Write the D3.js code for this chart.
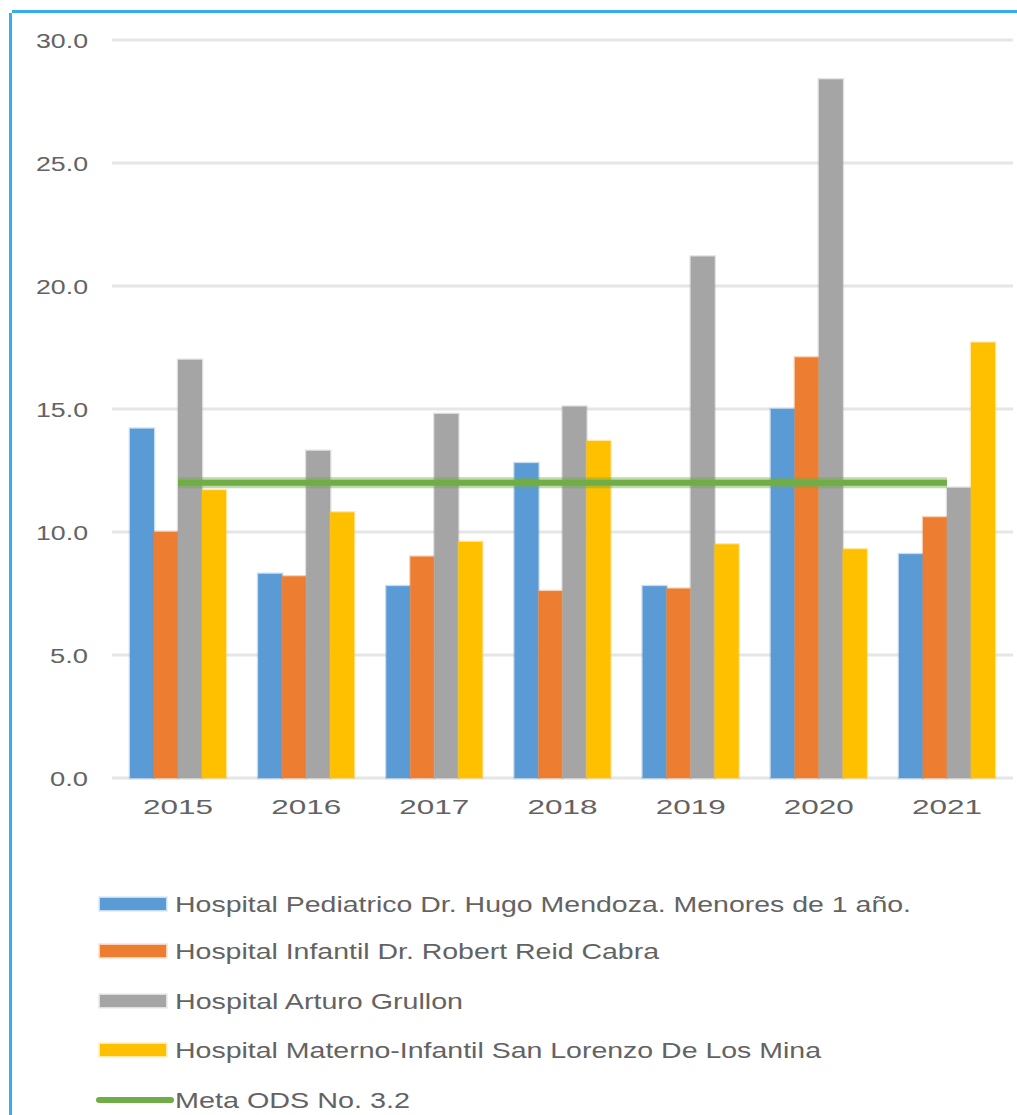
<!DOCTYPE html>
<html>
<head>
<meta charset="utf-8">
<script src="https://cdn.jsdelivr.net/npm/d3@7"></script>
<style>
  html, body { margin: 0; padding: 0; background: #fff; }
  svg { display: block; }
  text { font-family: "Liberation Sans", Arial, sans-serif; fill: #636363; }
</style>
</head>
<body>
<script>
const years = ["2015", "2016", "2017", "2018", "2019", "2020", "2021"];
const seriesNames = [
  "Hospital Pediatrico Dr. Hugo Mendoza. Menores de 1 año.",
  "Hospital Infantil Dr. Robert Reid Cabra",
  "Hospital Arturo Grullon",
  "Hospital Materno-Infantil San Lorenzo De Los Mina"
];
const hugoMendoza   = [14.2, 8.3, 7.8, 12.8, 7.8, 15.0, 9.1];
const robertReid    = [10.0, 8.2, 9.0, 7.6, 7.7, 17.1, 10.6];
const arturoGrullon = [17.0, 13.3, 14.8, 15.1, 21.2, 28.4, 11.8];
const sanLorenzo    = [11.7, 10.8, 9.6, 13.7, 9.5, 9.3, 17.7];
const metaName = "Meta ODS No. 3.2";
const metaODS = [12.0, 12.0, 12.0, 12.0, 12.0, 12.0, 12.0];
const yTicks = [0, 5, 10, 15, 20, 25, 30];
const seriesValues = [hugoMendoza, robertReid, arturoGrullon, sanLorenzo];
const colors = ["#5b9bd5", "#ed7d31", "#a5a5a5", "#ffc000"];
const metaColor = "#70ad47";

const W = 1017, H = 1115;
const svg = d3.select("body").append("svg").attr("width", W).attr("height", H);

// frame lines
svg.append("line").attr("x1", 12).attr("x2", W).attr("y1", 11.5).attr("y2", 11.5)
  .attr("stroke", "#37ade9").attr("stroke-width", 3);
svg.append("line").attr("x1", 10.5).attr("x2", 10.5).attr("y1", 13).attr("y2", H)
  .attr("stroke", "#37ade9").attr("stroke-width", 3);

const plotL = 112, plotR = 1013, plotT = 40, plotB = 778;
const y = d3.scaleLinear().domain([0, 30]).range([plotB, plotT]);
const x0 = d3.scaleBand().domain(years).range([plotL, plotR]).paddingInner(0.25).paddingOuter(0.14);
const x1 = d3.scaleBand().domain(d3.range(seriesValues.length)).range([0, x0.bandwidth()]);

// grid
const yAxis = d3.axisLeft(y).tickValues(yTicks).tickSize(0).tickFormat(d3.format(".1f"));
svg.append("g").selectAll("line").data(yTicks).join("line")
  .attr("x1", plotL).attr("x2", plotR)
  .attr("y1", d => y(d)).attr("y2", d => y(d))
  .attr("stroke", "#e6e6e6").attr("stroke-width", 3);

const gy = svg.append("g").attr("transform", `translate(88,0)`).call(yAxis);
gy.select(".domain").remove();
gy.selectAll("text")
  .attr("x", 0).attr("dy", "0.35em")
  .style("font-size", "20px").style("fill", "#636363")
  .style("font-family", "'Liberation Sans', Arial, sans-serif")
  .attr("textLength", d => d >= 10 ? 52 : 38)
  .attr("lengthAdjust", "spacingAndGlyphs");

// bars
const groups = svg.append("g").selectAll("g").data(years).join("g")
  .attr("transform", d => `translate(${x0(d)},0)`);
groups.selectAll("rect")
  .data((yr, i) => seriesValues.map((s, k) => ({k, v: s[i]})))
  .join("rect")
  .attr("x", d => x1(d.k))
  .attr("width", x1.bandwidth())
  .attr("y", d => y(d.v))
  .attr("height", d => y(0) - y(d.v))
  .attr("fill", d => colors[d.k])
  .attr("stroke", d => colors[d.k]).attr("stroke-opacity", 0.35).attr("stroke-width", 2.5);

// x axis labels
const xAxis = d3.axisBottom(x0).tickSize(0);
const gx = svg.append("g").attr("transform", `translate(0,${plotB})`).call(xAxis);
gx.select(".domain").remove();
gx.selectAll("text")
  .attr("y", 29).attr("dy", "0.35em")
  .style("font-size", "21px").style("fill", "#636363")
  .style("font-family", "'Liberation Sans', Arial, sans-serif")
  .attr("textLength", 70).attr("lengthAdjust", "spacingAndGlyphs");

// meta line
const line = d3.line().x((d, i) => x0(years[i]) + x0.bandwidth() / 2).y(d => y(d));
svg.append("path").datum(metaODS).attr("d", line)
  .attr("fill", "none").attr("stroke", metaColor).attr("stroke-opacity", 0.45).attr("stroke-width", 11);
svg.append("path").datum(metaODS).attr("d", line)
  .attr("fill", "none").attr("stroke", metaColor).attr("stroke-width", 6);

// legend
const legendY = [904, 951, 1001, 1050, 1100];
const legendLen = [736, 484, 288, 646, 235];
const legendItems = seriesNames.map((n, i) => ({name: n, color: colors[i], type: "bar"}))
  .concat([{name: metaName, color: metaColor, type: "line"}]);
const lg = svg.append("g").selectAll("g").data(legendItems).join("g")
  .attr("transform", (d, i) => `translate(0,${legendY[i]})`);
lg.filter(d => d.type === "bar").append("rect")
  .attr("x", 100).attr("y", -6).attr("width", 66).attr("height", 12)
  .attr("fill", d => d.color)
  .attr("stroke", d => d.color).attr("stroke-opacity", 0.35).attr("stroke-width", 3);
lg.filter(d => d.type === "line").append("line")
  .attr("x1", 99).attr("x2", 171).attr("y1", 0).attr("y2", 0)
  .attr("stroke", d => d.color).attr("stroke-width", 6)
  .attr("stroke-linecap", "round");
lg.append("text")
  .attr("x", 175).attr("y", 0).attr("dy", "0.36em")
  .style("font-size", "22px")
  .attr("textLength", (d, i) => legendLen[i]).attr("lengthAdjust", "spacingAndGlyphs")
  .text(d => d.name);
</script>
</body>
</html>
